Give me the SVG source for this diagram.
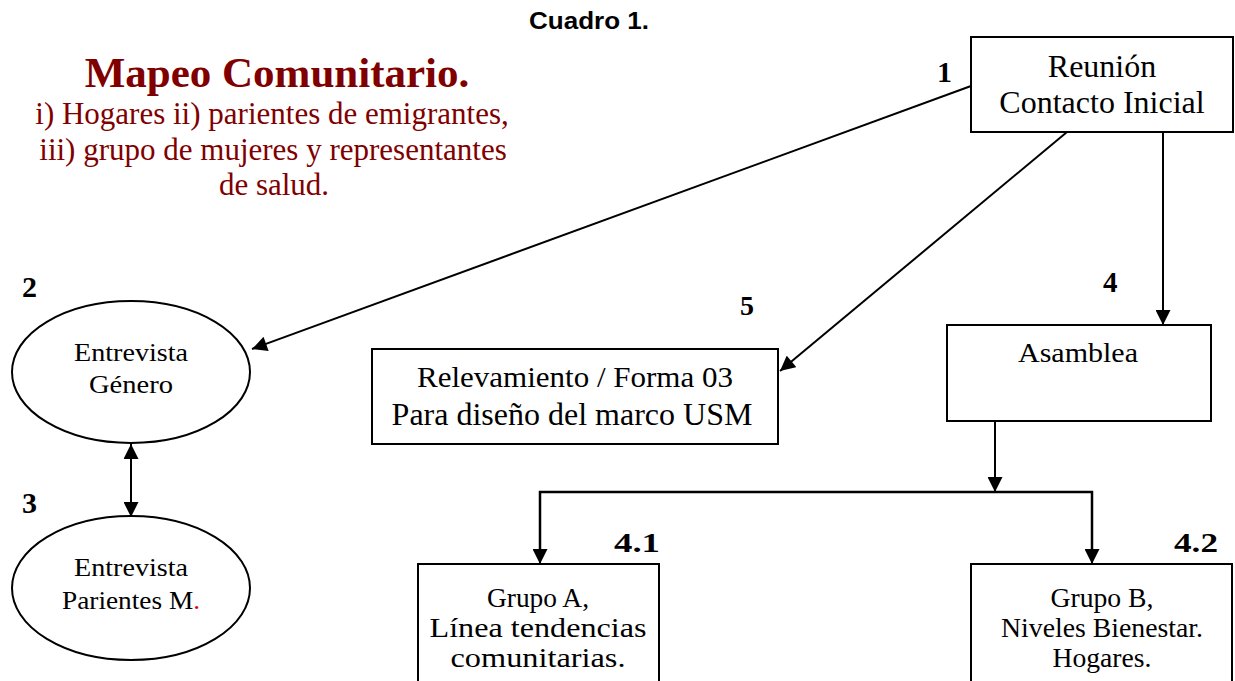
<svg xmlns="http://www.w3.org/2000/svg" width="1235" height="681" viewBox="0 0 1235 681">
<style>
.box{fill:#fff;stroke:#000;stroke-width:2}
.ln{fill:none;stroke:#000;stroke-width:2}
.t{font-family:"Liberation Serif",serif;font-size:26px;fill:#000;text-anchor:middle}
.n{font-family:"Liberation Serif",serif;font-size:30px;font-weight:bold;fill:#000}
.red{fill:#800000}
</style>
<defs>
<marker id="ah" viewBox="0 0 10 10" refX="10" refY="5" markerWidth="16" markerHeight="15" markerUnits="userSpaceOnUse" orient="auto-start-reverse">
<path d="M0,0 L10,5 L0,10 z" fill="#000"/>
</marker>
</defs>
<rect width="1235" height="681" fill="#fff"/>
<text x="589" y="29" font-family="Liberation Sans,sans-serif" font-size="24" font-weight="bold" text-anchor="middle" textLength="120" lengthAdjust="spacingAndGlyphs">Cuadro 1.</text>
<g id="title">
<text x="277" y="87" class="t red" style="font-size:43px;font-weight:bold">Mapeo Comunitario.</text>
<text x="272" y="124" class="t red" style="font-size:31px">i) Hogares ii) parientes de emigrantes,</text>
<text x="273" y="160" class="t red" style="font-size:31px">iii) grupo de mujeres y representantes</text>
<text x="274" y="195" class="t red" style="font-size:31px">de salud.</text>
</g>
<g id="connectors">
<line class="ln" x1="971" y1="86" x2="252" y2="349" marker-end="url(#ah)"/>
<line class="ln" x1="1067" y1="132" x2="780" y2="371" marker-end="url(#ah)"/>
<line class="ln" x1="1163" y1="132" x2="1163" y2="325" marker-end="url(#ah)"/>
<line class="ln" x1="131" y1="444" x2="131" y2="517" marker-start="url(#ah)" marker-end="url(#ah)"/>
<line class="ln" x1="995" y1="421" x2="995" y2="492" marker-end="url(#ah)"/>
<polyline points="540,550 540,492 1092,492 1092,550" fill="none" stroke="#000" stroke-width="2.5"/>
<line class="ln" x1="540" y1="540" x2="540" y2="564" marker-end="url(#ah)"/>
<line class="ln" x1="1092" y1="540" x2="1092" y2="564" marker-end="url(#ah)"/>
</g>
<g id="node1">
<rect class="box" x="971" y="37" width="262" height="95"/>
<text x="1102" y="77" class="t" style="font-size:32px">Reunión</text>
<text x="1102" y="113" class="t" style="font-size:32px">Contacto Inicial</text>
<text x="937" y="82" class="n">1</text>
</g>
<g id="node2">
<ellipse class="box" cx="131" cy="372" rx="119" ry="71"/>
<text x="131" y="361" class="t" textLength="114" lengthAdjust="spacingAndGlyphs">Entrevista</text>
<text x="131" y="393" class="t" textLength="84" lengthAdjust="spacingAndGlyphs">Género</text>
<text x="22" y="297" class="n">2</text>
</g>
<g id="node3">
<ellipse class="box" cx="131" cy="588" rx="119" ry="72"/>
<text x="131" y="576" class="t" textLength="114" lengthAdjust="spacingAndGlyphs">Entrevista</text>
<text x="131" y="609" class="t" textLength="138" lengthAdjust="spacingAndGlyphs">Parientes M<tspan fill="#e00000">.</tspan></text>
<text x="22" y="513" class="n">3</text>
</g>
<g id="node5">
<rect class="box" x="372" y="349" width="406" height="95"/>
<text x="575" y="387" class="t" style="font-size:29px" textLength="316" lengthAdjust="spacingAndGlyphs">Relevamiento / Forma 03</text>
<text x="572" y="425" class="t" style="font-size:32px">Para diseño del marco USM</text>
<text x="740" y="315" class="n" style="font-size:28px">5</text>
</g>
<g id="node4">
<rect class="box" x="947" y="325" width="264" height="96"/>
<text x="1078" y="362" class="t" style="font-size:28px" textLength="120" lengthAdjust="spacingAndGlyphs">Asamblea</text>
<text x="1103" y="292" class="n" style="font-size:29px">4</text>
</g>
<g id="node41">
<rect class="box" x="418" y="564" width="241" height="130"/>
<text x="538" y="607" class="t" style="font-size:28px" textLength="102" lengthAdjust="spacingAndGlyphs">Grupo A,</text>
<text x="538" y="637" class="t" style="font-size:28px" textLength="217" lengthAdjust="spacingAndGlyphs">Línea tendencias</text>
<text x="538" y="667" class="t" style="font-size:28px" textLength="175" lengthAdjust="spacingAndGlyphs">comunitarias.</text>
<text x="614" y="552" class="n" style="font-size:28px" textLength="46" lengthAdjust="spacingAndGlyphs">4.1</text>
</g>
<g id="node42">
<rect class="box" x="971" y="564" width="261" height="130"/>
<text x="1102" y="607" class="t" style="font-size:28px" textLength="103" lengthAdjust="spacingAndGlyphs">Grupo B,</text>
<text x="1102" y="637" class="t" style="font-size:28px" textLength="202" lengthAdjust="spacingAndGlyphs">Niveles Bienestar.</text>
<text x="1102" y="667" class="t" style="font-size:28px" textLength="99" lengthAdjust="spacingAndGlyphs">Hogares.</text>
<text x="1174" y="552" class="n" style="font-size:28px" textLength="44" lengthAdjust="spacingAndGlyphs">4.2</text>
</g>
</svg>
